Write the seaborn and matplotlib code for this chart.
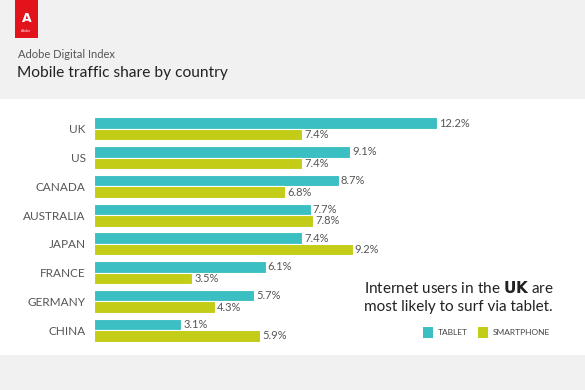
import matplotlib
matplotlib.use("Agg")
import matplotlib.pyplot as plt
import seaborn as sns
import pandas as pd
from matplotlib.patches import Rectangle

# Data
countries = ["UK", "US", "CANADA", "AUSTRALIA", "JAPAN", "FRANCE", "GERMANY", "CHINA"]
tablet = [12.2, 9.1, 8.7, 7.7, 7.4, 6.1, 5.7, 3.1]
smartphone = [7.4, 7.4, 6.8, 7.8, 9.2, 3.5, 4.3, 5.9]
series = ["TABLET", "SMARTPHONE"]
colors = ["#3cbfc2", "#c3cc16"]

df = pd.DataFrame({
    "country": countries * 2,
    "share": tablet + smartphone,
    "device": [series[0]] * len(countries) + [series[1]] * len(countries),
})

sns.set_theme(style="white")
plt.rcParams["font.family"] = ["Lato", "DejaVu Sans"]

W, H = 585, 390
fig = plt.figure(figsize=(W / 100, H / 100), dpi=100)
fig.patch.set_facecolor("#f1f1f2")

# white panel behind the chart
fig.add_artist(Rectangle((0, 1 - 355 / H), 1, (355 - 99) / H, transform=fig.transFigure,
                         facecolor="white", edgecolor="none", zorder=0))

# Adobe logo block
fig.add_artist(Rectangle((15 / W, 1 - 38 / H), 23 / W, 38 / H, transform=fig.transFigure,
                         facecolor="#e3131b", edgecolor="none", zorder=1))
fig.text(26.5 / W, 1 - 19 / H, "A", color="white", fontsize=9, fontweight="bold",
         ha="center", va="center", family=["DejaVu Sans"])
fig.text(26.5 / W, 1 - 31 / H, "Adobe", color="white", fontsize=2.5,
         ha="center", va="center")

fig.text(18 / W, 1 - 54 / H, "Adobe Digital Index", fontsize=8, color="#555555",
         ha="left", va="center")
fig.text(17 / W, 1 - 73 / H, "Mobile traffic share by country", fontsize=11.2,
         color="#222222", ha="left", va="center")

ax = fig.add_axes([94 / W, 1 - 344.6 / H, 478 / W, 230 / H])
ax.set_facecolor("none")
sns.barplot(data=df, y="country", x="share", hue="device", order=countries,
            hue_order=series, palette=colors, saturation=1, orient="h", width=0.8,
            edgecolor="white", linewidth=0.8, legend=False, ax=ax)
ax.set_xlim(0, 17)
ax.set_ylim(7.5, -0.5)
ax.set_xlabel("")
ax.set_ylabel("")
ax.set_xticks([])
ax.tick_params(axis="y", length=0, pad=6, labelsize=8.5, labelcolor="#555555")
sns.despine(ax=ax, left=True, bottom=True)

for cont in ax.containers:
    for bar in cont:
        val = bar.get_width()
        yc = bar.get_y() + bar.get_height() / 2
        ax.annotate(f"{val:.1f}%", (val, yc), xytext=(1.5, 0), textcoords="offset points",
                    ha="left", va="center", fontsize=8, color="#555555")

# call-out text
fig.text(364 / W, 1 - 288 / H, "Internet users in the $\\bf{UK}$ are", fontsize=11,
         color="#222222", ha="left", va="center")
fig.text(364 / W, 1 - 307 / H, "most likely to surf via tablet.", fontsize=11,
         color="#222222", ha="left", va="center")

# legend
fig.add_artist(Rectangle((423 / W, 1 - 338 / H), 10 / W, 11 / H, transform=fig.transFigure,
                         facecolor=colors[0], edgecolor="none"))
fig.text(438 / W, 1 - 332.5 / H, series[0], fontsize=6, color="#444444", ha="left", va="center")
fig.add_artist(Rectangle((478 / W, 1 - 338 / H), 10 / W, 11 / H, transform=fig.transFigure,
                         facecolor=colors[1], edgecolor="none"))
fig.text(493 / W, 1 - 332.5 / H, series[1], fontsize=6, color="#444444", ha="left", va="center")

fig.savefig("out.png", dpi=100, facecolor=fig.get_facecolor())
